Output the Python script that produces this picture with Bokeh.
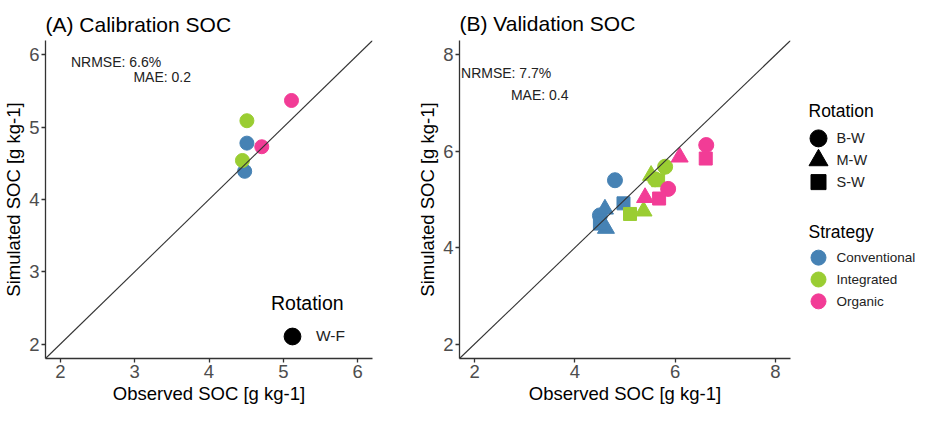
from bokeh.plotting import figure
from bokeh.layouts import row
from bokeh.models import (Range1d, Label, Legend, LegendItem, FixedTicker,
                          ColumnDataSource, Slope)
from bokeh.core.properties import value
from bokeh.embed import file_html
from bokeh.resources import INLINE

FONT = "Liberation Sans"

# ---------------- data ----------------
strategies = ["Conventional", "Integrated", "Organic"]
strategy_colors = ["#4682B4", "#9ACD32", "#F23C96"]

cal_rotations = ["W-F"]
val_rotations = ["B-W", "M-W", "S-W"]
rotation_markers = {"W-F": "circle", "B-W": "circle", "M-W": "triangle", "S-W": "square"}
marker_sizes = {"circle": 15, "triangle": 17, "square": 13}

cal_obs = [4.48, 4.45, 4.51, 4.51, 4.71, 5.11]
cal_sim = [4.39, 4.54, 4.78, 5.09, 4.73, 5.37]
cal_strategy = ["Conventional", "Integrated", "Conventional", "Integrated", "Organic", "Organic"]
cal_rotation = ["W-F"] * 6
cal_stats = ["NRMSE: 6.6%", "MAE: 0.2"]

val_obs = [4.80, 4.50, 4.60, 4.62, 4.97, 4.50,
           5.80, 5.60, 5.52, 5.37, 5.66, 5.10,
           6.62, 5.86, 6.09, 5.40, 6.61, 5.68]
val_sim = [5.40, 4.67, 4.80, 4.40, 4.92, 4.50,
           5.68, 5.42, 5.50, 4.76, 5.40, 4.70,
           6.13, 5.22, 5.88, 5.04, 5.85, 5.02]
val_strategy = ["Conventional"] * 6 + ["Integrated"] * 6 + ["Organic"] * 6
val_rotation = ["B-W", "B-W", "M-W", "M-W", "S-W", "S-W"] * 3
val_stats = ["NRMSE: 7.7%", "MAE: 0.4"]

cal_ticks = [2, 3, 4, 5, 6]
val_ticks = [2, 4, 6, 8]

color_of = dict(zip(strategies, strategy_colors))


def make_source(obs, sim, strat, rot, size_scale=1.0):
    markers = [rotation_markers[r] for r in rot]
    return ColumnDataSource(dict(
        obs=obs, sim=sim,
        color=[color_of[s] for s in strat],
        marker=markers,
        size=[marker_sizes[m] * size_scale for m in markers],
    ))


def style(p, ticks, title_standoff):
    p.xgrid.visible = False
    p.ygrid.visible = False
    p.outline_line_color = None
    p.background_fill_color = "white"
    p.border_fill_color = "white"
    for ax in (p.xaxis[0], p.yaxis[0]):
        ax.ticker = FixedTicker(ticks=ticks)
        ax.minor_tick_line_color = None
        ax.axis_line_color = "#333333"
        ax.axis_line_width = 1.3
        ax.major_tick_line_color = "#333333"
        ax.major_tick_line_width = 1.3
        ax.major_tick_out = 4
        ax.major_tick_in = 0
        ax.major_label_text_font = FONT
        ax.major_label_text_font_size = "18.5px"
        ax.major_label_text_color = "#4D4D4D"
        ax.major_label_standoff = 2
        ax.axis_label_text_font = FONT
        ax.axis_label_text_font_size = "18.5px"
        ax.axis_label_text_font_style = "normal"
        ax.axis_label_text_color = "black"
        ax.axis_label_standoff = 2
    p.xaxis.axis_label = "Observed SOC [g kg-1]"
    p.yaxis.axis_label = "Simulated SOC [g kg-1]"
    p.title.text_font = FONT
    p.title.text_font_size = "21px"
    p.title.text_font_style = "normal"
    p.title.text_color = "black"
    p.title.standoff = title_standoff
    p.add_layout(Slope(gradient=1, y_intercept=0, line_color="#333333", line_width=1.1))


# ---------------- panel A ----------------
pA = figure(width=400, height=406, x_range=Range1d(1.8, 6.2), y_range=Range1d(1.8, 6.2),
            output_backend="svg", toolbar_location=None, title="(A) Calibration SOC",
            min_border_left=36, min_border_right=28, min_border_top=40, min_border_bottom=40)
srcA = make_source(cal_obs, cal_sim, cal_strategy, cal_rotation, size_scale=14 / 15)
pA.scatter(x="obs", y="sim", source=srcA, marker="marker", size="size",
           fill_color="color", line_color="color")
style(pA, cal_ticks, 9)
pA.add_layout(Label(x=2.75, y=5.9, text=cal_stats[0], text_align="center", text_baseline="middle",
                    text_font=FONT, text_font_size="14px", text_color="#222222"))
pA.add_layout(Label(x=3.37, y=5.7, text=cal_stats[1], text_align="center", text_baseline="middle",
                    text_font=FONT, text_font_size="14px", text_color="#222222"))

nan = float("nan")
dummyA = pA.scatter(x=[nan], y=[nan], marker=rotation_markers[cal_rotations[0]], color="black")
legA = Legend(items=[LegendItem(label=cal_rotations[0], renderers=[dummyA])],
              title="Rotation", location=(226, 1),
              glyph_width=42, glyph_height=42, label_standoff=3, padding=0, margin=0,
              spacing=0, title_standoff=0,
              border_line_color=None, background_fill_alpha=0,
              title_text_font=FONT, title_text_font_size="19.5px", title_text_font_style="normal",
              title_text_color="black",
              label_text_font=FONT, label_text_font_size="15.5px", label_text_color="#222222")
pA.add_layout(legA, "center")

# ---------------- panel B ----------------
pB = figure(width=396, height=406, x_range=Range1d(1.7, 8.3), y_range=Range1d(1.7, 8.3),
            output_backend="svg", toolbar_location=None, title="(B) Validation SOC",
            min_border_left=59, min_border_right=6, min_border_top=38, min_border_bottom=40)
srcB = make_source(val_obs, val_sim, val_strategy, val_rotation)
pB.scatter(x="obs", y="sim", source=srcB, marker="marker", size="size",
           fill_color="color", line_color="color")
style(pB, val_ticks, 12)
pB.add_layout(Label(x=2.63, y=7.62, text=val_stats[0], text_align="center", text_baseline="middle",
                    text_font=FONT, text_font_size="14px", text_color="#222222"))
pB.add_layout(Label(x=3.30, y=7.16, text=val_stats[1], text_align="center", text_baseline="middle",
                    text_font=FONT, text_font_size="14px", text_color="#222222"))

# ---------------- legend panel for B ----------------
# the row aligns this panel's frame with the plots' frames; its ranges are set
# so that one range unit equals one pixel of the page
LW, LH = 119, 406
FR_TOP, FR_BOTTOM = 38.5, 358.5
pL = figure(width=LW, height=LH, x_range=Range1d(0, LW), y_range=Range1d(FR_BOTTOM, FR_TOP),
            output_backend="svg", toolbar_location=None, min_border=0,
            min_border_top=38, min_border_bottom=47,
            x_axis_type=None, y_axis_type=None)
pL.xgrid.visible = False
pL.ygrid.visible = False
pL.outline_line_color = None

title_x, key_x, lab_x = 12, 22, 40
step = 22
rot_title_y = 109
rot_keys_y = [rot_title_y + 28 + i * step for i in range(len(val_rotations))]
str_title_y = 231
str_keys_y = [str_title_y + 26 + i * step for i in range(len(strategies))]

rot_markers = [rotation_markers[r] for r in val_rotations]
pL.scatter(x=[key_x] * len(val_rotations), y=rot_keys_y, marker=rot_markers,
           size=[marker_sizes[m] + 2 for m in rot_markers], color="black")
pL.scatter(x=[key_x] * len(strategies), y=str_keys_y, marker="circle", size=15,
           color=strategy_colors)
pL.text(x=[title_x, title_x], y=[rot_title_y, str_title_y], text=["Rotation", "Strategy"],
        text_font=value(FONT), text_font_size="17.5px", text_color="black",
        text_baseline="middle", text_align="left")
pL.text(x=[lab_x] * len(val_rotations), y=rot_keys_y, text=val_rotations,
        text_font=value(FONT), text_font_size="14.5px", text_color="#222222",
        text_baseline="middle", text_align="left")
pL.text(x=[lab_x] * len(strategies), y=str_keys_y, text=strategies,
        text_font=value(FONT), text_font_size="13.5px", text_color="#222222",
        text_baseline="middle", text_align="left")

layout = row(pA, pB, pL)
open("out.html", "w").write(file_html(layout, INLINE))
